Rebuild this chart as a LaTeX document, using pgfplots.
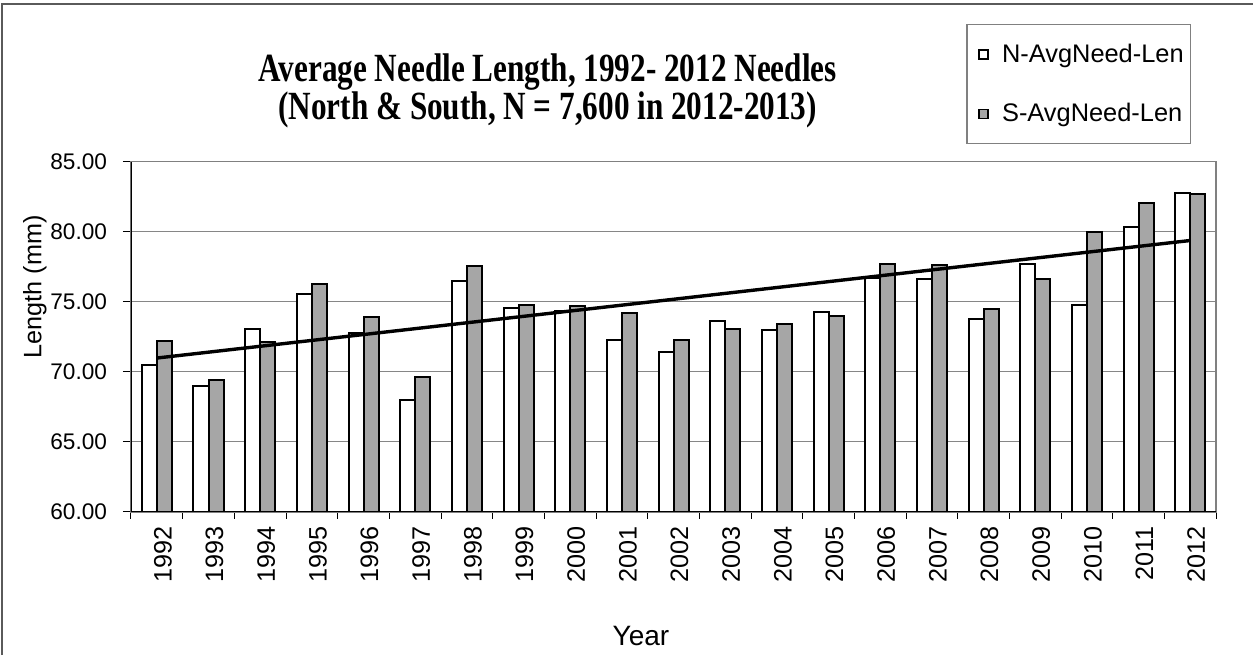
\documentclass[border=0pt]{standalone}
\usepackage{fontspec}
\setmainfont{Liberation Sans}
\newfontfamily\titlefont{Liberation Serif}
\usepackage{graphicx}
\usepackage{pgfplots}
\pgfplotsset{compat=1.18}
\definecolor{barg}{RGB}{166,166,166}
\definecolor{gridg}{RGB}{134,134,134}
\definecolor{bordg}{RGB}{128,128,128}
\begin{document}
\begin{tikzpicture}
\begin{axis}[
  scale only axis, width=542.5pt, height=175.1pt,
  at={(0,0)}, anchor=south west,
  ybar=0pt, bar width=7.5pt,
  xmin=-0.5, xmax=20.5, ymin=60, ymax=85,
  ytick={60,65,70,75,80,85},
  yticklabel={\pgfmathprintnumber[fixed,fixed zerofill,precision=2]{\tick}},
  /pgf/number format/assume math mode=true,
  y tick label style={font=\fontsize{11.3}{13}\selectfont, xshift=-4.5pt},
  xtick={0,1,2,3,4,5,6,7,8,9,10,11,12,13,14,15,16,17,18,19,20},
  xticklabels={1992,1993,1994,1995,1996,1997,1998,1999,2000,2001,2002,2003,2004,2005,2006,2007,2008,2009,2010,2011,2012},
  x tick label style={rotate=90, anchor=east, yshift=-3pt, font=\fontsize{12.6}{14}\selectfont},
  minor xtick={-0.5,0.5,...,20.5},
  major x tick style={draw=none},
  minor x tick style={black, line width=0.5pt},
  major y tick style={black, line width=0.5pt},
  major tick length=4pt, minor tick length=3.5pt,
  tick align=outside, tick pos=left,
  ymajorgrids, grid style={gridg, line width=0.6pt},
  axis line style={bordg, line width=0.8pt},
  clip=true,
  title={\scalebox{0.78}[1]{Average Needle Length, 1992- 2012 Needles}\\\scalebox{0.78}[1]{(North \& South, N = 7,600 in 2012-2013)}},
  title style={at={(axis description cs:0.384,1.167)}, anchor=center, yshift=0pt, align=center,
    font=\titlefont\bfseries\fontsize{20}{17}\selectfont},
  ylabel={Length (mm)},
  ylabel style={at={(axis description cs:-0.0885,0.6425)}, anchor=center,
    font=\fontsize{12.6}{14}\selectfont},
  xlabel={Year},
  xlabel style={at={(axis description cs:0.470,-0.355)}, anchor=center,
    font=\fontsize{14}{16}\selectfont},
  legend style={at={(0.770,1.392)}, anchor=north west, draw=bordg, line width=0.6pt,
    font=\fontsize{12.7}{14}\selectfont, inner xsep=1.5pt, inner ysep=7.5pt,
    row sep=15pt},
  legend cell align=left,
  legend image code/.code={\draw[#1, line width=0.7pt] (4.5pt,-2.25pt) rectangle (9pt,2.25pt); \path[draw=none,fill=none] (0pt,0pt) -- (11pt,0pt);},
]
\addplot[draw=black, fill=white, line width=1pt] coordinates {
(0,70.45) (1,68.95) (2,73.06) (3,75.56) (4,72.73) (5,68.00) (6,76.44)
(7,74.54) (8,74.30) (9,72.23) (10,71.43) (11,73.63) (12,72.99) (13,74.25)
(14,76.70) (15,76.60) (16,73.75) (17,77.67) (18,74.75) (19,80.36) (20,82.78)};
\addlegendentry{\hspace{3pt}N-AvgNeed-Len}
\addplot[draw=black, fill=barg, line width=1pt] coordinates {
(0,72.19) (1,69.41) (2,72.09) (3,76.29) (4,73.87) (5,69.60) (6,77.55)
(7,74.73) (8,74.70) (9,74.16) (10,72.28) (11,73.04) (12,73.37) (13,73.99)
(14,77.65) (15,77.62) (16,74.49) (17,76.60) (18,79.95) (19,82.04) (20,82.68)};
\addlegendentry{\hspace{3pt}S-AvgNeed-Len}
\addplot[sharp plot, black, line width=1.7pt, forget plot, bar shift=0pt] coordinates {(0,70.97) (20,79.36)};
\draw[black, line width=0.8pt] (rel axis cs:0,0) -- (rel axis cs:0,1);
\draw[black, line width=0.8pt] (rel axis cs:0,0) -- (rel axis cs:1,0);
\end{axis}
\draw[bordg!70!black, line width=0.8pt] (-64.5pt,-71.65pt) -- (-64.5pt,253.85pt) -- (561pt,253.85pt);
\pgfresetboundingbox
\useasboundingbox (-65.5pt,-71.65pt) rectangle (561pt,255.85pt);
\end{tikzpicture}
\end{document}
